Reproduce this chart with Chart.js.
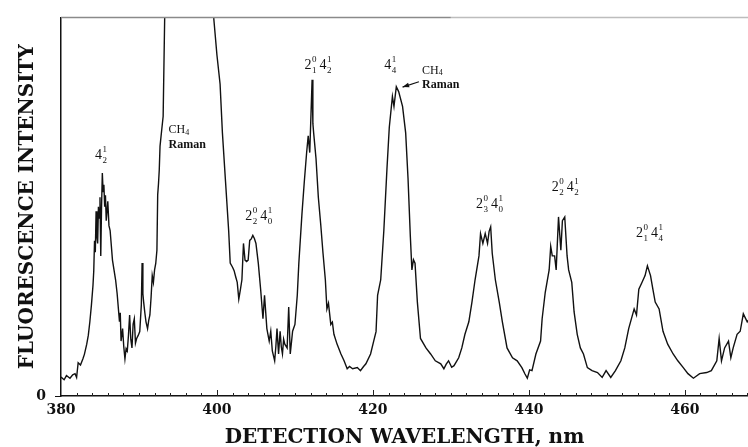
<!DOCTYPE html>
<html lang="en">
<head>
    <meta charset="UTF-8">
    <title>Fluorescence Spectrum</title>
    <script src="https://cdn.jsdelivr.net/npm/chart.js"></script>
    <style>
        body { margin: 0; background: #fff; }
    </style>
</head>
<body>
    <canvas id="spectrumChart" width="748" height="447"></canvas>

    <script>
        // detection wavelength (nm) and fluorescence intensity (arb., 100 = top of frame)
        const wavelength = [
            380.0, 380.4, 380.7, 381.15, 381.5, 381.8, 382.0, 382.2, 382.5, 382.8,
            383.0, 383.3, 383.5, 383.7, 383.9, 384.1, 384.2, 384.3, 384.4, 384.5,
            384.6, 384.7, 384.8, 384.9, 385.0, 385.1, 385.2, 385.3, 385.4, 385.5,
            385.6, 385.7, 385.8, 386.0, 386.15, 386.3, 386.6, 387.0, 387.2, 387.5,
            387.6, 387.7, 387.9, 388.05, 388.2, 388.35, 388.5, 388.65, 388.8, 388.95,
            389.1, 389.25, 389.4, 389.55, 389.7, 389.9, 390.1, 390.3, 390.4, 390.5,
            390.6, 390.75, 390.9, 391.1, 391.25, 391.4, 391.55, 391.7, 391.85, 392.0,
            392.15, 392.3, 392.4, 392.5, 392.6, 392.7, 392.9, 393.1, 393.3, 393.6,
            396.5, 399.3, 399.6, 400.0, 400.4, 400.7, 401.1, 401.5, 401.7, 402.0,
            402.2, 402.4, 402.6, 402.8, 403.0, 403.2, 403.4, 403.6, 403.8, 404.0,
            404.2, 404.4, 404.6, 404.8, 405.0, 405.3, 405.6, 405.9, 406.1, 406.4,
            406.7, 406.9, 407.1, 407.4, 407.55, 407.7, 407.9, 408.1, 408.25, 408.4,
            408.55, 408.7, 409.0, 409.2, 409.4, 409.7, 410.0, 410.3, 410.5, 410.9,
            411.2, 411.5, 411.7, 411.9, 412.05, 412.2, 412.3, 412.4, 412.7, 413.0,
            413.3, 413.6, 413.9, 414.1, 414.3, 414.6, 414.8, 415.0, 415.4, 415.9,
            416.3, 416.7, 417.0, 417.4, 418.0, 418.4, 418.8, 419.1, 419.7, 420.1,
            420.4, 420.6, 421.0, 421.4, 421.8, 422.1, 422.5, 422.7, 423.0, 423.3,
            423.8, 424.2, 424.5, 424.8, 425.0, 425.2, 425.4, 425.7, 426.1, 426.8,
            427.4, 428.0, 428.7, 429.1, 429.4, 429.7, 430.1, 430.4, 431.0, 431.4,
            431.8, 432.3, 432.7, 433.1, 433.6, 433.8, 434.1, 434.4, 434.7, 434.9,
            435.1, 435.3, 435.7, 436.2, 436.6, 437.2, 437.9, 438.5, 439.1, 439.5,
            439.8, 440.1, 440.4, 440.9, 441.5, 441.7, 442.1, 442.6, 442.8, 443.0,
            443.3, 443.5, 443.8, 444.1, 444.3, 444.6, 444.9, 445.1, 445.5, 445.8,
            446.2, 446.6, 447.0, 447.5, 448.1, 448.8, 449.4, 449.9, 450.5, 451.1,
            451.8, 452.3, 452.8, 453.5, 453.8, 454.1, 454.5, 454.9, 455.2, 455.6,
            455.9, 456.2, 456.7, 457.2, 457.8, 458.5, 459.1, 459.8, 460.4, 461.1,
            461.9, 462.8, 463.4, 464.1, 464.4, 464.7, 465.1, 465.6, 465.9, 466.2,
            466.7, 467.1, 467.5, 468.0, 468.3
        ];
        const intensity = [
            5.0, 4.3, 5.4, 4.7, 5.6, 5.9, 4.9, 8.8, 8.2, 9.8,
            11.0, 13.7, 16.0, 19.6, 24.0, 29.2, 33.0, 41.0, 38.0, 48.8,
            42.0, 40.3, 50.0, 47.0, 52.5, 37.0, 50.0, 58.9, 54.0, 55.8,
            50.0, 53.0, 46.3, 51.4, 45.0, 43.7, 35.9, 30.7, 27.0, 19.6,
            22.0, 14.5, 17.8, 13.0, 9.8, 12.5, 11.9, 16.0, 21.4, 15.0,
            12.7, 19.0, 20.4, 14.0, 15.2, 16.0, 17.0, 24.0, 35.1, 27.0,
            24.8, 22.0, 19.6, 17.8, 20.0, 21.4, 26.0, 31.8, 30.0, 33.3,
            35.0, 38.5, 53.2, 56.0, 59.7, 66.0, 70.0, 73.9, 100.5, 125.0,
            160.0, 125.0, 99.5, 90.0, 82.4, 69.5, 56.6, 43.7, 35.1, 34.0,
            33.1, 31.5, 30.0, 25.6, 28.0, 30.7, 40.3, 35.9, 35.5, 35.9,
            41.1, 41.5, 42.4, 41.6, 40.3, 35.1, 28.2, 20.4, 26.6, 17.8,
            14.5, 17.1, 11.9, 9.3, 13.0, 17.8, 11.1, 17.1, 13.0, 11.1,
            15.0, 13.7, 12.7, 23.5, 11.1, 17.1, 18.9, 26.6, 35.1, 48.1,
            56.6, 64.3, 68.7, 64.3, 73.9, 83.5, 72.0, 69.5, 62.8, 52.5,
            45.5, 37.7, 30.7, 23.0, 24.5, 18.9, 19.5, 16.3, 13.7, 11.1,
            9.3, 7.2, 7.8, 7.2, 7.5, 6.7, 7.8, 8.5, 11.1, 14.5,
            17.0, 26.6, 30.7, 43.7, 60.0, 71.0, 79.1, 76.5, 81.7, 80.4,
            76.5, 69.5, 57.6, 42.1, 33.3, 36.0, 35.1, 24.8, 15.2, 12.7,
            11.1, 9.3, 8.5, 7.2, 8.4, 9.3, 7.6, 8.0, 10.1, 12.7,
            16.3, 19.6, 24.8, 30.7, 37.0, 42.9, 40.3, 42.9, 40.3, 43.5,
            44.7, 37.7, 30.7, 24.8, 19.6, 12.7, 10.1, 9.3, 7.5, 5.8,
            4.7, 6.9, 6.7, 11.1, 14.5, 20.4, 27.4, 33.3, 39.5, 37.0,
            37.0, 33.3, 47.3, 38.5, 46.3, 47.3, 37.0, 33.3, 30.0, 22.2,
            16.3, 12.7, 11.1, 7.5, 6.7, 6.2, 4.9, 6.7, 4.9, 6.7,
            9.3, 12.7, 17.8, 23.0, 21.4, 28.2, 30.0, 31.8, 34.4, 31.8,
            28.2, 24.8, 23.0, 17.1, 13.7, 11.1, 9.3, 7.5, 5.9, 4.7,
            5.9, 6.2, 6.7, 9.3, 15.2, 9.3, 12.7, 14.5, 10.1, 12.7,
            16.3, 17.1, 21.7, 19.6, 20.5
        ];
        const xTickValues = [380, 400, 420, 440, 460];
        const yTickValues = [0];

        // band assignments: each part is [base, superscript, subscript]
        const bandLabels = [
            { nm: 385.1, level: 63.6, parts: [['4', '1', '2']] },
            { nm: 405.3, level: 47.5, parts: [['2', '0', '2'], ['4', '1', '0']] },
            { nm: 412.9, level: 87.3, parts: [['2', '0', '1'], ['4', '1', '2']] },
            { nm: 422.2, level: 87.3, parts: [['4', '1', '4']] },
            { nm: 434.9, level: 50.6, parts: [['2', '0', '3'], ['4', '1', '0']] },
            { nm: 444.6, level: 55.0, parts: [['2', '0', '2'], ['4', '1', '2']] },
            { nm: 455.4, level: 42.9, parts: [['2', '0', '1'], ['4', '1', '4']] }
        ];
        const ramanLabels = [
            { nm: 393.8, level: 70.3 },
            { nm: 426.3, level: 86.0 }
        ];
        const ramanArrow = { fromNm: 425.9, fromLevel: 83.0, toNm: 423.8, toLevel: 81.6 };

        const serif = '"Liberation Serif", "Times New Roman", serif';
        const axisFont = '"DejaVu Serif", serif';

        const annotationPlugin = {
            id: 'annotations',
            afterDatasetsDraw(chart) {
                const ctx = chart.ctx;
                const x = chart.scales.x;
                const y = chart.scales.y;
                const area = chart.chartArea;
                ctx.save();

                // top frame line (faded scan edge)
                ctx.lineWidth = 1.5;
                ctx.strokeStyle = '#8a8a8a';
                ctx.beginPath();
                ctx.moveTo(area.left, area.top);
                ctx.lineTo(x.getPixelForValue(430), area.top);
                ctx.stroke();
                ctx.strokeStyle = '#bdbdbd';
                ctx.beginPath();
                ctx.moveTo(x.getPixelForValue(430), area.top);
                ctx.lineTo(area.right, area.top);
                ctx.stroke();

                // inward minor ticks on the wavelength axis
                ctx.strokeStyle = '#222';
                ctx.lineWidth = 1;
                for (let nm = 382; nm <= 468; nm += 2) {
                    const px = Math.round(x.getPixelForValue(nm)) + 0.5;
                    const len = nm % 20 === 0 ? 6 : 3;
                    ctx.beginPath();
                    ctx.moveTo(px, area.bottom);
                    ctx.lineTo(px, area.bottom - len);
                    ctx.stroke();
                }

                // band labels with stacked super/subscripts
                ctx.fillStyle = '#111';
                ctx.textBaseline = 'middle';
                ctx.textAlign = 'left';
                const bigFont = '14px ' + serif;
                const smallFont = '9px ' + serif;
                bandLabels.forEach(lbl => {
                    let total = 0;
                    const widths = lbl.parts.map(p => {
                        ctx.font = bigFont;
                        const wb = ctx.measureText(p[0]).width;
                        ctx.font = smallFont;
                        const ws = Math.max(ctx.measureText(p[1]).width, ctx.measureText(p[2]).width);
                        return [wb, ws];
                    });
                    widths.forEach((w, i) => { total += w[0] + w[1] + (i > 0 ? 3 : 0); });
                    let cx = x.getPixelForValue(lbl.nm) - total / 2;
                    const cy = y.getPixelForValue(lbl.level);
                    lbl.parts.forEach((p, i) => {
                        if (i > 0) cx += 3;
                        ctx.font = bigFont;
                        ctx.fillText(p[0], cx, cy);
                        cx += widths[i][0] + 0.5;
                        ctx.font = smallFont;
                        ctx.fillText(p[1], cx, cy - 6);
                        ctx.fillText(p[2], cx, cy + 5);
                        cx += widths[i][1];
                    });
                });

                // CH4 Raman notes
                ramanLabels.forEach(r => {
                    const lx = x.getPixelForValue(r.nm);
                    const ly = y.getPixelForValue(r.level);
                    ctx.font = '12px ' + serif;
                    ctx.fillText('CH', lx, ly);
                    const w = ctx.measureText('CH').width;
                    ctx.font = '8px ' + serif;
                    ctx.fillText('4', lx + w, ly + 3);
                    ctx.font = 'bold 12px ' + serif;
                    ctx.fillText('Raman', lx, ly + 15);
                });

                // arrow to the Raman line under 4_4^1
                const ax0 = x.getPixelForValue(ramanArrow.fromNm);
                const ay0 = y.getPixelForValue(ramanArrow.fromLevel);
                const ax1 = x.getPixelForValue(ramanArrow.toNm);
                const ay1 = y.getPixelForValue(ramanArrow.toLevel);
                ctx.strokeStyle = '#111';
                ctx.lineWidth = 1.2;
                ctx.beginPath();
                ctx.moveTo(ax0, ay0);
                ctx.lineTo(ax1, ay1);
                ctx.stroke();
                const ang = Math.atan2(ay1 - ay0, ax1 - ax0);
                ctx.beginPath();
                ctx.moveTo(ax1, ay1);
                ctx.lineTo(ax1 - 7 * Math.cos(ang - 0.35), ay1 - 7 * Math.sin(ang - 0.35));
                ctx.lineTo(ax1 - 7 * Math.cos(ang + 0.35), ay1 - 7 * Math.sin(ang + 0.35));
                ctx.closePath();
                ctx.fill();

                ctx.restore();
            }
        };

        const ctx = document.getElementById('spectrumChart').getContext('2d');
        const spectrumChart = new Chart(ctx, {
            type: 'line',
            data: {
                datasets: [{
                    label: 'Fluorescence',
                    data: wavelength.map((w, i) => ({ x: w, y: intensity[i] })),
                    borderColor: '#111',
                    borderWidth: 1.4,
                    pointRadius: 0,
                    tension: 0,
                    fill: false
                }]
            },
            options: {
                responsive: false,
                animation: false,
                devicePixelRatio: 1,
                layout: { padding: { top: 9, right: 0, bottom: 0, left: 0 } },
                plugins: {
                    legend: { display: false },
                    tooltip: { enabled: false }
                },
                scales: {
                    x: {
                        type: 'linear',
                        min: 380,
                        max: 468.1,
                        afterBuildTicks: axis => { axis.ticks = xTickValues.map(v => ({ value: v })); },
                        afterFit: axis => { axis.height = 51; },
                        grid: { display: false, drawTicks: false },
                        border: { display: true, color: '#111', width: 1.5 },
                        ticks: {
                            color: '#111',
                            padding: 6,
                            maxRotation: 0,
                            font: { family: axisFont, size: 14, weight: 'bold' }
                        },
                        title: {
                            display: true,
                            text: 'DETECTION WAVELENGTH, nm',
                            color: '#111',
                            padding: { top: 0, bottom: 0 },
                            font: { family: axisFont, size: 20, weight: 'bold', lineHeight: 0.95 }
                        }
                    },
                    y: {
                        min: 0,
                        max: 100,
                        afterBuildTicks: axis => { axis.ticks = yTickValues.map(v => ({ value: v })); },
                        afterFit: axis => { axis.width = 61; },
                        grid: { display: true, drawOnChartArea: false, drawTicks: true, tickLength: 6, color: '#111' },
                        border: { display: true, color: '#111', width: 1.5 },
                        ticks: {
                            color: '#111',
                            padding: 9,
                            font: { family: axisFont, size: 14, weight: 'bold' }
                        },
                        title: {
                            display: true,
                            text: 'FLUORESCENCE INTENSITY',
                            color: '#111',
                            padding: { top: 18, bottom: 0 },
                            font: { family: axisFont, size: 20, weight: 'bold', lineHeight: 1 }
                        }
                    }
                }
            },
            plugins: [annotationPlugin]
        });
    </script>
</body>
</html>
